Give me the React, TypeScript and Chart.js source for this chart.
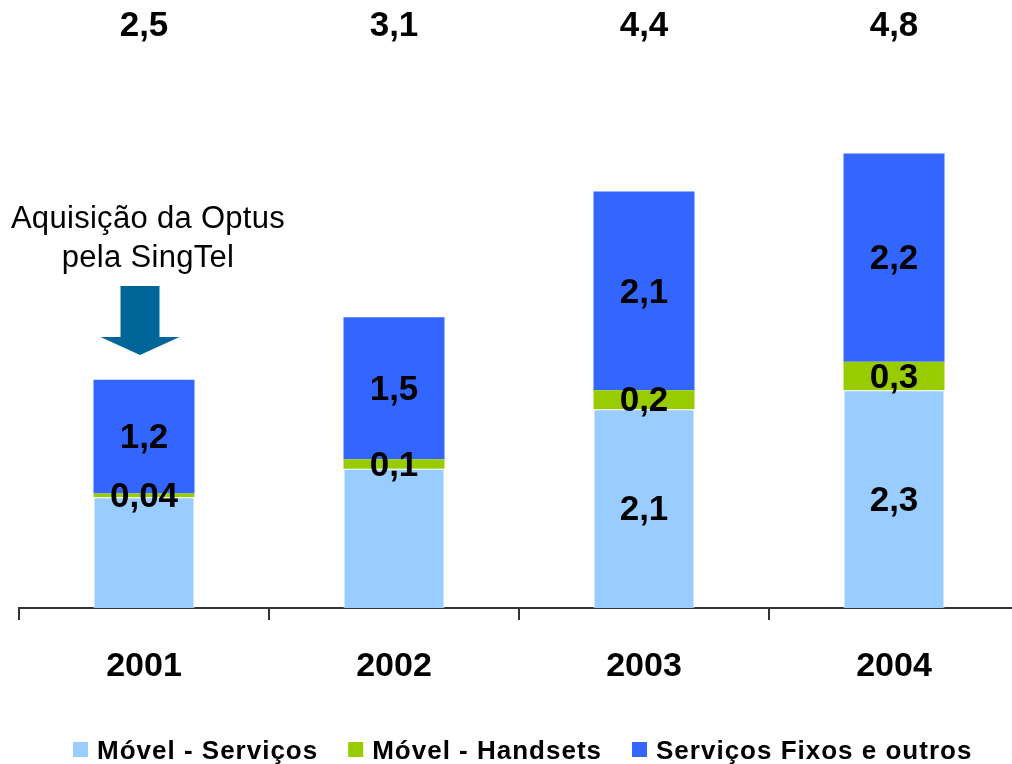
import React, { useEffect, useRef } from "react";
import { Chart, registerables } from "chart.js";

Chart.register(...registerables);

const categories = ["2001", "2002", "2003", "2004"];
const movelServicos = [1.17, 1.47, 2.1, 2.3];
const movelHandsets = [0.04, 0.1, 0.2, 0.3];
const servicosFixos = [1.2, 1.5, 2.1, 2.2];
const totals = [2.5, 3.1, 4.4, 4.8];
const showMovelServicosLabel = [false, false, true, true];
const seriesNames = ["Móvel - Serviços", "Móvel - Handsets", "Serviços Fixos e outros"];
const seriesColors = ["#99CCFF", "#99CC00", "#3366FF"];
const annotationLines = ["Aquisição da Optus", "pela SingTel"];

const FONT = "'Liberation Sans', Arial, sans-serif";
const fmt = (v: number) => v.toString().replace(".", ",");

const overlayPlugin = {
  id: "overlay",
  afterDatasetsDraw(chart: any) {
    const ctx = chart.ctx as CanvasRenderingContext2D;
    ctx.save();
    ctx.fillStyle = "#000";
    ctx.textAlign = "center";
    ctx.textBaseline = "middle";
    ctx.font = `bold 35px ${FONT}`;
    chart.data.datasets.forEach((ds: any, di: number) => {
      const meta = chart.getDatasetMeta(di);
      meta.data.forEach((bar: any, i: number) => {
        if (di === 0 && !showMovelServicosLabel[i]) return;
        const { x, y, base } = bar.getProps(["x", "y", "base"], true);
        ctx.fillText(fmt(ds.data[i]), x, (y + base) / 2 + 2);
      });
    });
    // totals
    const xs = chart.scales.x;
    totals.forEach((t, i) => {
      ctx.fillText(fmt(t), xs.getPixelForValue(i), 26);
    });
    // annotation
    const ax = xs.getPixelForValue(0) + 4;
    ctx.font = `31px ${FONT}`;
    (ctx as any).letterSpacing = "0.3px";
    ctx.fillText(annotationLines[0], ax, 219);
    ctx.fillText(annotationLines[1], ax, 258);
    (ctx as any).letterSpacing = "0px";
    // arrow
    const cx = xs.getPixelForValue(0) - 4;
    ctx.fillStyle = "#006699";
    ctx.beginPath();
    ctx.moveTo(cx - 19.5, 286);
    ctx.lineTo(cx + 19.5, 286);
    ctx.lineTo(cx + 19.5, 337);
    ctx.lineTo(cx + 39.5, 337);
    ctx.lineTo(cx, 355);
    ctx.lineTo(cx - 39.5, 337);
    ctx.lineTo(cx - 19.5, 337);
    ctx.closePath();
    ctx.fill();
    // legend
    ctx.font = `bold 26px ${FONT}`;
    (ctx as any).letterSpacing = "1px";
    ctx.textAlign = "left";
    ctx.textBaseline = "alphabetic";
    let lx = 73;
    seriesNames.forEach((name, i) => {
      ctx.fillStyle = seriesColors[i];
      ctx.fillRect(lx, 742, 15, 15);
      ctx.fillStyle = "#000";
      const tx = lx + 24;
      ctx.fillText(name, tx, 759);
      const w = ctx.measureText(name).width;
      lx = tx + w + 30;
    });
    (ctx as any).letterSpacing = "0px";
    ctx.restore();
  },
};

export default function App() {
  const ref = useRef<HTMLCanvasElement | null>(null);
  useEffect(() => {
    if (!ref.current) return;
    const chart = new Chart(ref.current, {
      type: "bar",
      data: {
        labels: categories,
        datasets: [
          {
            label: seriesNames[0],
            data: movelServicos,
            backgroundColor: seriesColors[0],
            borderColor: "#FFFFFF",
            borderWidth: { top: 1, left: 1, right: 1, bottom: 0 },
            borderSkipped: false,
          },
          {
            label: seriesNames[1],
            data: movelHandsets,
            backgroundColor: seriesColors[1],
            borderWidth: 0,
          },
          {
            label: seriesNames[2],
            data: servicosFixos,
            backgroundColor: seriesColors[2],
            borderWidth: 0,
          },
        ],
      },
      options: {
        responsive: false,
        animation: false,
        layout: { padding: { left: 19, right: 11, top: 40, bottom: 0 } },
        datasets: { bar: { barPercentage: 0.404, categoryPercentage: 1 } },
        plugins: {
          legend: { display: false },
          tooltip: { enabled: false },
        },
        scales: {
          x: {
            stacked: true,
            afterFit: (scale: any) => {
              scale.height = 156;
            },
            border: { display: true, color: "#333333", width: 2 },
            grid: {
              display: true,
              offset: true,
              drawOnChartArea: false,
              drawTicks: true,
              tickLength: 12,
              color: "#333333",
              lineWidth: 2,
            },
            ticks: {
              color: "#000",
              font: { family: FONT, size: 34, weight: "bold" },
              padding: 26,
            },
          },
          y: {
            stacked: true,
            display: false,
            min: 0,
            max: 6,
          },
        },
      },
      plugins: [overlayPlugin],
    });
    return () => chart.destroy();
  }, []);
  return (
    <div
      style={{
        position: "fixed",
        left: 0,
        top: 0,
        width: 1012,
        height: 764,
        overflow: "hidden",
        background: "#fff",
      }}
    >
      <canvas ref={ref} width={1030} height={764} style={{ display: "block" }} />
    </div>
  );
}
